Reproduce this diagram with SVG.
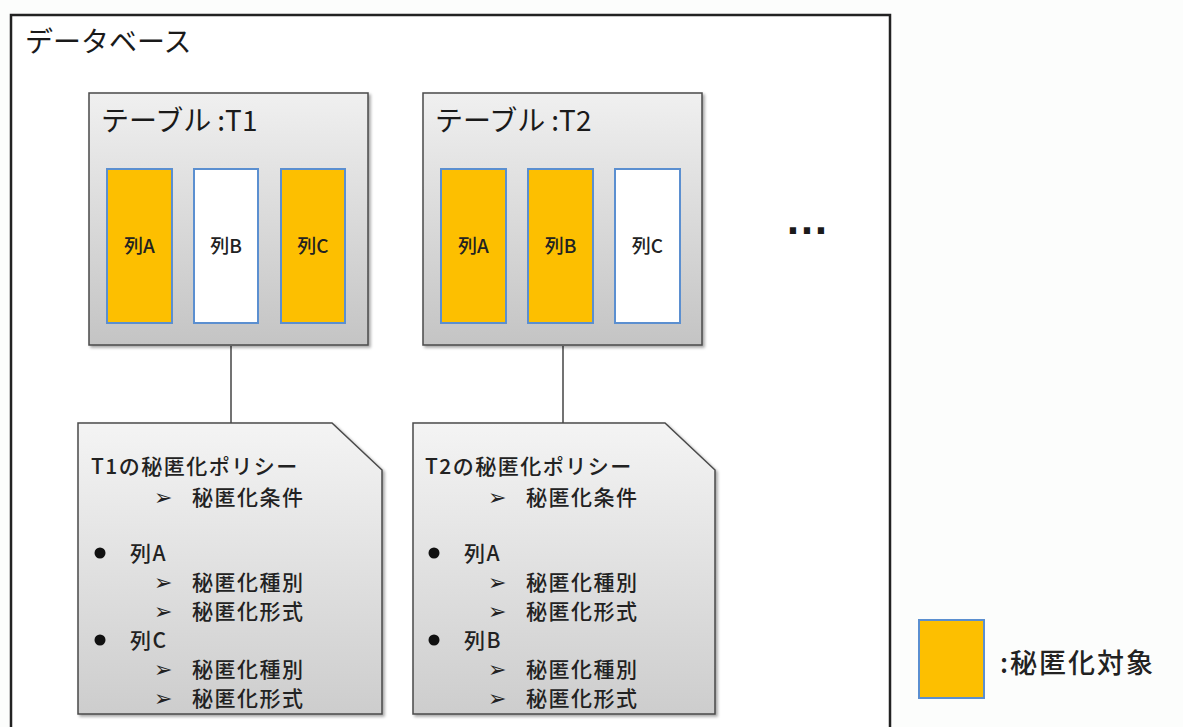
<svg xmlns="http://www.w3.org/2000/svg" width="1183" height="727" viewBox="0 0 1183 727">
<defs>
<linearGradient id="gTable" x1="0" y1="0" x2="0" y2="1">
<stop offset="0" stop-color="#f0f0f0"/>
<stop offset="1" stop-color="#c4c4c4"/>
</linearGradient>
<linearGradient id="gDoc" x1="0" y1="0" x2="0" y2="1">
<stop offset="0" stop-color="#f4f4f4"/>
<stop offset="1" stop-color="#cdcdcd"/>
</linearGradient>
<filter id="sh" x="-5%" y="-5%" width="115%" height="115%">
<feDropShadow dx="2" dy="2" stdDeviation="1.5" flood-color="#000" flood-opacity="0.35"/>
</filter>
</defs>
<style>
text{font-family:"Noto Sans CJK JP","Noto Sans",sans-serif;fill:#1a1a1a}
.tbl{fill:url(#gTable);stroke:#4a4a4a;stroke-width:1.5}
.doc{fill:url(#gDoc);stroke:#4a4a4a;stroke-width:1.5}
.on{fill:#fdbf00;stroke:#5b8fd0;stroke-width:2}
.off{fill:#ffffff;stroke:#5b8fd0;stroke-width:2}
.col{font-size:19px;text-anchor:middle;font-weight:500;fill:#222}
.pl{font-size:21px;letter-spacing:1.5px;font-weight:500;fill:#222}
.ar{font-size:22px;font-family:"DejaVu Sans",sans-serif;fill:#222}
.conn{stroke:#444;stroke-width:1.5;fill:none}
</style>
<rect x="0" y="0" width="1183" height="727" fill="#fcfdfc"/>
<g id="database">
<rect x="11" y="15" width="879" height="730" fill="#ffffff" stroke="#222" stroke-width="2.5"/>
<text x="25" y="52" style="font-size:28px">データベース</text>
</g>
<g id="connectors">
<line class="conn" x1="231" y1="346" x2="231" y2="423"/>
<line class="conn" x1="563" y1="346" x2="563" y2="423"/>
</g>
<g id="table-t1">
<rect x="89" y="93" width="279" height="252" class="tbl" filter="url(#sh)"/>
<text x="101" y="131" style="font-size:28px">テーブル<tspan dx="6">:T1</tspan></text>
<rect x="107" y="169" width="65" height="154" class="on"/>
<text x="139.5" y="253" class="col">列A</text>
<rect x="194" y="169" width="64" height="154" class="off"/>
<text x="226" y="253" class="col">列B</text>
<rect x="281" y="169" width="64" height="154" class="on"/>
<text x="313" y="253" class="col">列C</text>
</g>
<g id="table-t2">
<rect x="423" y="93" width="279" height="252" class="tbl" filter="url(#sh)"/>
<text x="435" y="131" style="font-size:28px">テーブル<tspan dx="6">:T2</tspan></text>
<rect x="441" y="169" width="65" height="154" class="on"/>
<text x="473.5" y="253" class="col">列A</text>
<rect x="528" y="169" width="65" height="154" class="on"/>
<text x="560.5" y="253" class="col">列B</text>
<rect x="615" y="169" width="65" height="154" class="off"/>
<text x="647.5" y="253" class="col">列C</text>
</g>
<g id="ellipsis">
<text x="807" y="234" style="font-size:44px;text-anchor:middle;font-family:'Liberation Sans',sans-serif;font-weight:bold">…</text>
</g>
<g id="policy-t1">
<path d="M78,423 H332 L382,470 V714 H78 Z" class="doc" filter="url(#sh)"/>
<text x="91" y="474" class="pl">T1の秘匿化ポリシー</text>
<text x="154" y="505" class="ar">➢</text><text x="192" y="505" class="pl">秘匿化条件</text>
<circle cx="100" cy="553" r="5.5" fill="#111"/>
<text x="130" y="561" class="pl">列A</text>
<text x="154" y="590" class="ar">➢</text><text x="192" y="590" class="pl">秘匿化種別</text>
<text x="154" y="619" class="ar">➢</text><text x="192" y="619" class="pl">秘匿化形式</text>
<circle cx="100" cy="640" r="5.5" fill="#111"/>
<text x="130" y="648" class="pl">列C</text>
<text x="154" y="677" class="ar">➢</text><text x="192" y="677" class="pl">秘匿化種別</text>
<text x="154" y="706" class="ar">➢</text><text x="192" y="706" class="pl">秘匿化形式</text>
</g>
<g id="policy-t2">
<path d="M413,423 H665 L715,470 V714 H413 Z" class="doc" filter="url(#sh)"/>
<text x="425" y="474" class="pl">T2の秘匿化ポリシー</text>
<text x="488" y="505" class="ar">➢</text><text x="526" y="505" class="pl">秘匿化条件</text>
<circle cx="434" cy="553" r="5.5" fill="#111"/>
<text x="464" y="561" class="pl">列A</text>
<text x="488" y="590" class="ar">➢</text><text x="526" y="590" class="pl">秘匿化種別</text>
<text x="488" y="619" class="ar">➢</text><text x="526" y="619" class="pl">秘匿化形式</text>
<circle cx="434" cy="640" r="5.5" fill="#111"/>
<text x="464" y="648" class="pl">列B</text>
<text x="488" y="677" class="ar">➢</text><text x="526" y="677" class="pl">秘匿化種別</text>
<text x="488" y="706" class="ar">➢</text><text x="526" y="706" class="pl">秘匿化形式</text>
</g>
<g id="legend">
<rect x="919" y="620" width="65" height="78" class="on"/>
<text x="1000" y="673" style="font-size:27px;letter-spacing:2px;font-weight:500;fill:#222">:秘匿化対象</text>
</g>
</svg>
